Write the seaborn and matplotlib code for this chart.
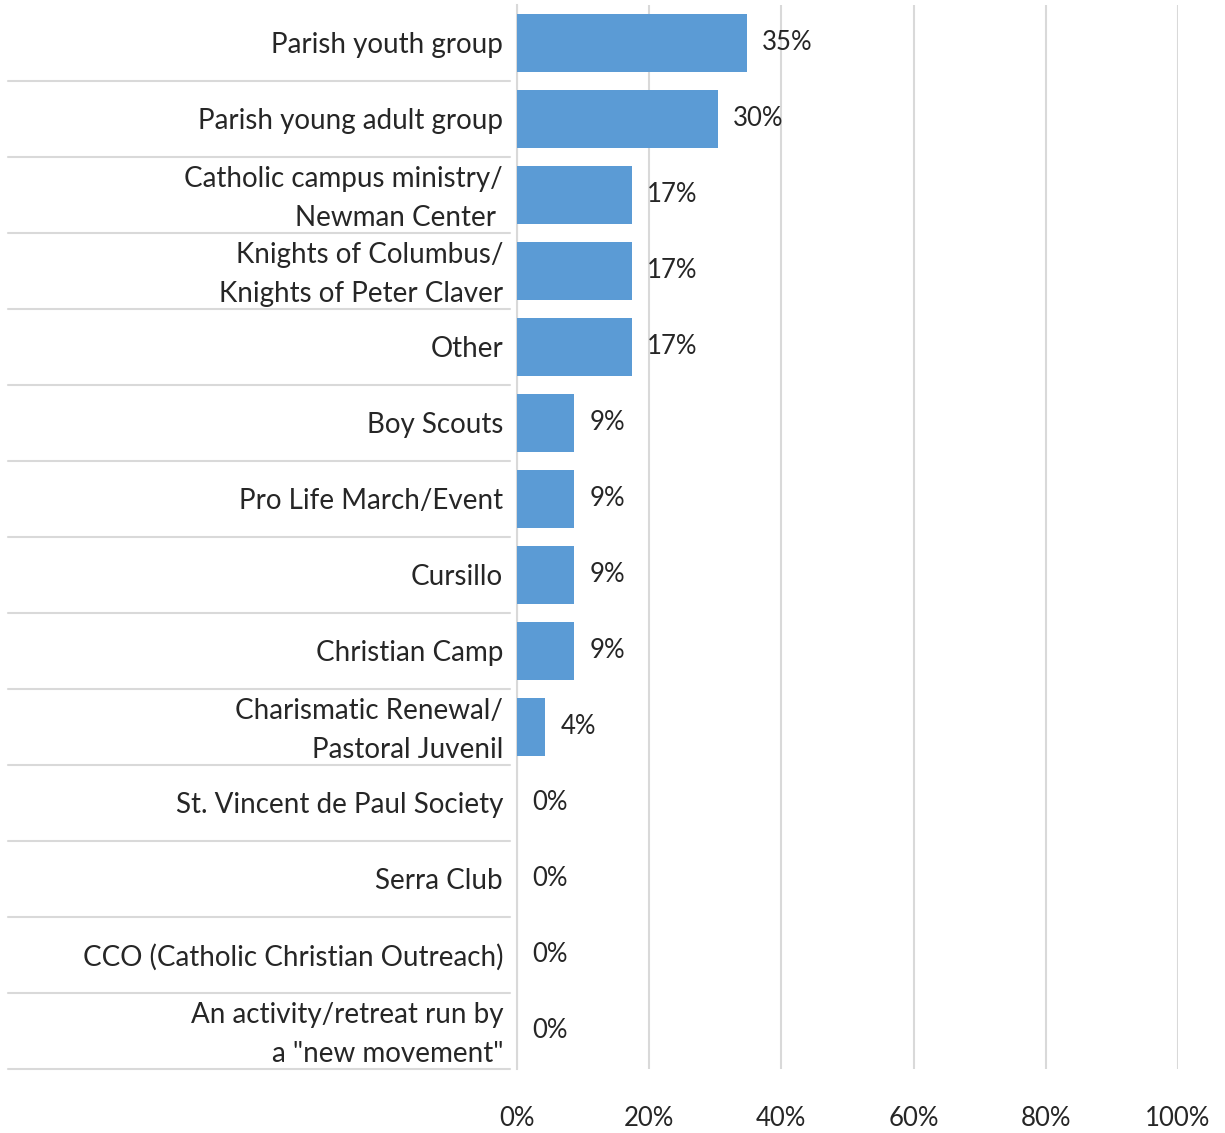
import matplotlib
matplotlib.use('Agg')
import matplotlib.pyplot as plt
import matplotlib.transforms as mtransforms
import seaborn as sns

# categories top to bottom, shares in percent (n=23 respondents)
categories = [
    'Parish youth group',
    'Parish young adult group',
    'Catholic campus ministry/\nNewman Center ',
    'Knights of Columbus/\nKnights of Peter Claver',
    'Other',
    'Boy Scouts',
    'Pro Life March/Event',
    'Cursillo',
    'Christian Camp',
    'Charismatic Renewal/\nPastoral Juvenil',
    'St. Vincent de Paul Society',
    'Serra Club',
    'CCO (Catholic Christian Outreach)',
    'An activity/retreat run by\na "new movement"',
]
shares = [34.8, 30.4, 17.4, 17.4, 17.4, 8.7, 8.7, 8.7, 8.7, 4.3, 0, 0, 0, 0]
xticks = [0, 20, 40, 60, 80, 100]

bar_color = '#5B9BD5'
grid_color = '#D9D9D9'
text_color = '#262626'
fs = 20
num_fs = 18.5

sns.set_style('white')
plt.rcParams['font.family'] = ['Lato', 'DejaVu Sans']
plt.rcParams['text.color'] = text_color

fig = plt.figure(figsize=(12.25, 11.33), dpi=100)
ax = fig.add_axes([0.422, 0.0565, 0.5396, 0.9391])

sns.barplot(x=shares, y=categories, orient='h', color=bar_color, saturation=1,
            width=0.76, linewidth=0, ax=ax, zorder=3)

ax.set_xlim(0, 100)
ax.set_ylim(len(categories) - 0.5, -0.5)
ax.set_xticks(xticks)
ax.set_xticklabels([f'{t}%' for t in xticks])
ax.xaxis.grid(True, color=grid_color, lw=1.5)
ax.yaxis.grid(False)
ax.set_axisbelow(True)
for s in ['top', 'right', 'bottom']:
    ax.spines[s].set_visible(False)
ax.spines['left'].set_color(grid_color)
ax.spines['left'].set_linewidth(1.5)
ax.set_xlabel('')
ax.set_ylabel('')

ax.tick_params(axis='x', length=6.5, width=1.5, color=grid_color, pad=20,
               labelsize=num_fs, labelcolor=text_color)
ax.tick_params(axis='y', length=0, pad=10, labelsize=fs, labelcolor=text_color)

# two-line labels sit a little higher, as in the original
lift = mtransforms.ScaledTranslation(0, 4 / 72, fig.dpi_scale_trans)
for lab in ax.get_yticklabels():
    lab.set_multialignment('right')
    lab.set_linespacing(1.62)
    if '\n' in lab.get_text():
        lab.set_transform(lab.get_transform() + lift)

# separator lines between category labels
for i in range(1, len(categories) + 1):
    y = i - 0.5
    ax.plot([-0.770, -0.0106], [y, y], transform=ax.get_yaxis_transform(),
            clip_on=False, color=grid_color, lw=1.5)

# value labels
for i, v in enumerate(shares):
    ax.annotate(f'{round(v)}%', (v, i), xytext=(11, 0), textcoords='offset points',
                va='center', ha='left', fontsize=num_fs, color=text_color)

fig.savefig('out.png', dpi=100)
